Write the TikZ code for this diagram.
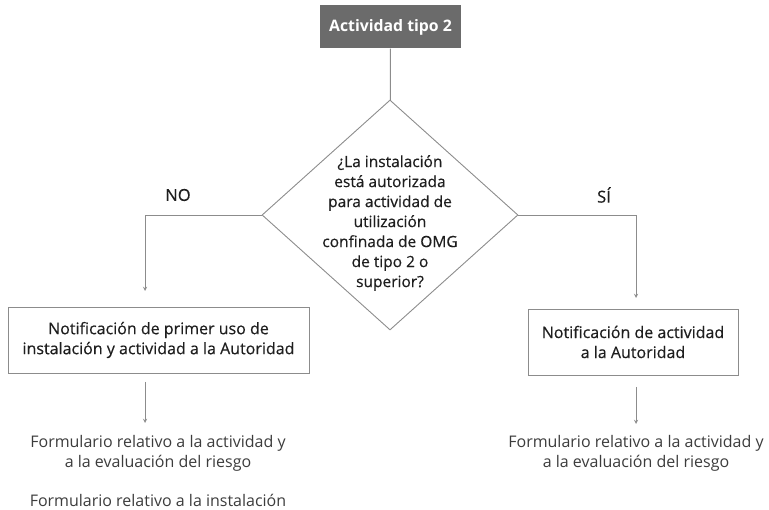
\documentclass[tikz,border=0pt]{standalone}
\usepackage{fontspec}
\setmainfont{Open Sans}
\newfontfamily\medfont[FakeBold=0.45]{Open Sans}
\usepackage{xcolor}
\usetikzlibrary{shapes}
\usetikzlibrary{positioning}
\definecolor{boxgray}{HTML}{6B6B6B}
\definecolor{linegray}{HTML}{8C8C8C}
\definecolor{txtdark}{HTML}{1E1E1E}
\definecolor{txtgray}{HTML}{3C3C3C}

\begin{document}
\begin{tikzpicture}[>=stealth, x=1pt, y=-1pt,
  every node/.style={font=\fontsize{16}{20}\selectfont},
  line/.style={draw=linegray, line width=0.9pt},
  startbox/.style={fill=boxgray, text=white, minimum width=141, minimum height=43, font=\fontsize{15.8}{18}\selectfont\bfseries},
  decision/.style={diamond, draw=linegray, line width=0.9pt, minimum width=256, minimum height=230, inner sep=0pt},
  notebox/.style={draw=linegray, line width=0.9pt, align=center, text=txtdark, minimum height=66, font=\medfont\fontsize{16}{20}\selectfont},
  formtext/.style={align=center, text=txtgray}
]

\useasboundingbox (0,0) rectangle (769,510);

% Start and decision
\node[startbox] (start) at (390.5,27) {Actividad tipo 2};
\node[decision] (dia) at (390,215) {};
\node[align=center, text=txtdark, font=\medfont\fontsize{15.5}{20}\selectfont] (quest) at (390,223) {¿La instalación\\está autorizada\\para actividad de\\utilización\\confinada de OMG\\de tipo 2 o\\superior?};
\draw[line] (start) -- (dia);

% branch labels
\node[text=txtdark, font=\medfont\fontsize{16.5}{20}\selectfont] (no) at (178,195) {NO};
\node[text=txtdark, font=\medfont\fontsize{16.5}{20}\selectfont] (si) at (604,195) {SÍ};

% boxes
\node[notebox, minimum width=301] (leftbox) at (158.5,340) {Notificación de primer uso de\\instalación y actividad a la Autoridad};
\node[notebox, minimum width=210] (rightbox) at (633,342) {Notificación de actividad\\a la Autoridad};

% corners and arrow ends
\coordinate (nocorner) at (145,215);
\coordinate (noend) at (145,291);
\coordinate (sicorner) at (636,215);
\coordinate (siend) at (636,298);
\coordinate (lefttop) at (145,382);
\coordinate (leftend) at (145,423);
\coordinate (righttop) at (636,387);
\coordinate (rightend) at (636,424);

\draw[line,->] (dia.west) -- (nocorner) -- (noend);
\draw[line,->] (dia.east) -- (sicorner) -- (siend);
\draw[line,->] (lefttop) -- (leftend);
\draw[line,->] (righttop) -- (rightend);

% forms
\node[formtext] (leftform) at (158,453) {Formulario relativo a la actividad y\\a la evaluación del riesgo};
\node[formtext] (instform) at (158,500) {Formulario relativo a la instalación};
\node[formtext] (rightform) at (636,453) {Formulario relativo a la actividad y\\a la evaluación del riesgo};

\end{tikzpicture}
\end{document}
